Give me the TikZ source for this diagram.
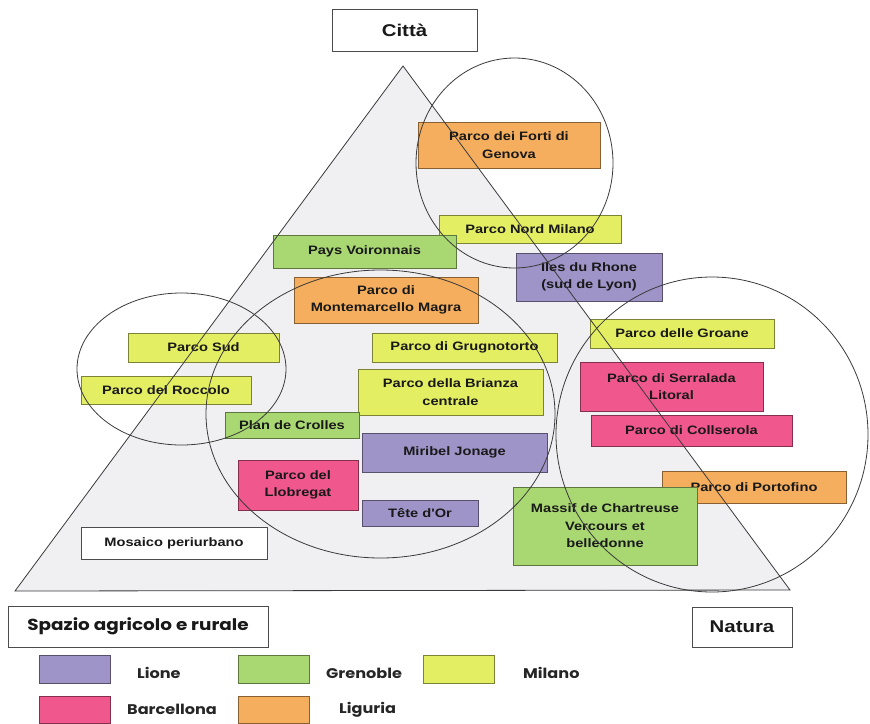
\documentclass[tikz,border=0pt]{standalone}
\usepackage{fontspec}
\setmainfont{Liberation Sans}
\newfontfamily\boxfont[FakeStretch=1.2]{Liberation Sans}
\newfontfamily\legfont[FakeStretch=1.15]{Poppins}
\definecolor{lione}{HTML}{9E94C8}
\definecolor{gren}{HTML}{A9D873}
\definecolor{milano}{HTML}{E4EE63}
\definecolor{barc}{HTML}{F0578C}
\definecolor{lig}{HTML}{F5AE5E}
\definecolor{trifill}{HTML}{F0F0F2}
\definecolor{linegray}{HTML}{3A3A3A}
\begin{document}
\begin{tikzpicture}[x=1pt,y=-1pt,
  box/.style={draw=#1!55!black, fill=#1, line width=0.9pt, inner sep=1pt,
    align=center, text=black!90,
    font=\boxfont\bfseries\fontsize{12.2}{17.5}\selectfont},
  whitebox/.style={draw=black!70, fill=white, line width=0.9pt, inner sep=1pt,
    align=center, text=black!90},
  swatch/.style={draw=#1!55!black, fill=#1, line width=0.9pt,
    minimum width=71pt, minimum height=28pt, inner sep=0pt},
  legtext/.style={anchor=west, inner sep=0pt, text=black!85,
    font=\legfont\bfseries\fontsize{14}{16}\selectfont},
  outline/.style={draw=linegray, line width=0.8pt}]
\useasboundingbox (0,0) rectangle (870,723);

% triangle fill
\coordinate (apex) at (403,66);
\coordinate (bl) at (15,591);
\coordinate (br) at (790,590);
\fill[trifill] (apex) -- (bl) -- (br) -- cycle;

% header / corner labels
\node[whitebox, minimum width=145pt, minimum height=42pt,
  font=\boxfont\bfseries\fontsize{17}{19}\selectfont] (citta) at (404.5,30) {Città};
\node[whitebox, minimum width=260pt, minimum height=41pt,
  font=\legfont\bfseries\fontsize{16}{18}\selectfont] (spazio) at (138,626.5) {Spazio agricolo e rurale};
\node[whitebox, minimum width=100pt, minimum height=40pt,
  font=\boxfont\bfseries\fontsize{17}{19}\selectfont] (natura) at (742,627) {Natura};
\node[whitebox, minimum width=186pt, minimum height=32pt,
  font=\boxfont\bfseries\fontsize{12.2}{17}\selectfont] (mosaico) at (174,543) {Mosaico periurbano};

% park boxes
\node[box=lig, minimum width=182pt, minimum height=46pt] (forti) at (509,145) {Parco dei Forti di\\Genova};
\node[box=milano, minimum width=182pt, minimum height=28pt] (nordmilano) at (530,229) {Parco Nord Milano};
\node[box=gren, minimum width=183pt, minimum height=33pt] (voironnais) at (364.5,251.5) {Pays Voironnais};
\node[box=lione, minimum width=146pt, minimum height=48pt] (iles) at (589,277) {Iles du Rhone\\(sud de Lyon)};
\node[box=lig, minimum width=184pt, minimum height=46pt] (montemarcello) at (386,300) {Parco di\\Montemarcello Magra};
\node[box=milano, minimum width=151pt, minimum height=29pt] (sud) at (203.5,347.5) {Parco Sud};
\node[box=milano, minimum width=170pt, minimum height=28pt] (roccolo) at (166,390) {Parco del Roccolo};
\node[box=milano, minimum width=185pt, minimum height=29pt] (grugnotorto) at (464.5,347.5) {Parco di Grugnotorto};
\node[box=milano, minimum width=185pt, minimum height=46pt] (brianza) at (450.5,392) {Parco della Brianza\\centrale};
\node[box=gren, minimum width=134pt, minimum height=26pt] (crolles) at (292,425) {Plan de Crolles};
\node[box=lione, minimum width=185pt, minimum height=39pt] (miribel) at (454.5,452.5) {Miribel Jonage};
\node[box=barc, minimum width=120pt, minimum height=50pt] (llobregat) at (298,485) {Parco del\\Llobregat};
\node[box=lione, minimum width=116pt, minimum height=26pt] (tetedor) at (420,513) {Tête d'Or};
\node[box=milano, minimum width=184pt, minimum height=29pt] (groane) at (682,333.5) {Parco delle Groane};
\node[box=barc, minimum width=183pt, minimum height=49pt] (serralada) at (671.5,386.5) {Parco di Serralada\\Litoral};
\node[box=barc, minimum width=201pt, minimum height=31pt] (collserola) at (691.5,430.5) {Parco di Collserola};
\node[box=lig, minimum width=184pt, minimum height=32pt] (portofino) at (754,487) {Parco di Portofino};
\node[box=gren, minimum width=184pt, minimum height=78pt] (massif) at (605,526) {Massif de Chartreuse\\Vercours et\\belledonne};

% triangle outline and circles on top
\draw[outline] (apex) -- (bl) -- (br) -- cycle;
\draw[outline] (514.5,163) ellipse [x radius=98.5pt, y radius=105pt];
\draw[outline] (181.5,369) ellipse [x radius=104.5pt, y radius=76pt];
\draw[outline] (380.5,414) ellipse [x radius=174.5pt, y radius=144pt];
\draw[outline] (712,434.5) ellipse [x radius=156pt, y radius=157.5pt];

% legend
\node[swatch=lione] (swlione) at (75,669.5) {};
\node[swatch=gren] (swgren) at (273.5,669.5) {};
\node[swatch=milano] (swmilano) at (458.5,669) {};
\node[swatch=barc, minimum height=27pt] (swbarc) at (75,710) {};
\node[swatch=lig, minimum height=27pt] (swlig) at (273.5,710) {};
\node[legtext] (tlione) at (137,673) {Lione};
\node[legtext] (tgren) at (326,673) {Grenoble};
\node[legtext] (tmilano) at (523,673) {Milano};
\node[legtext] (tbarc) at (127,709) {Barcellona};
\node[legtext] (tlig) at (339,710) {Liguria};
\end{tikzpicture}
\end{document}
